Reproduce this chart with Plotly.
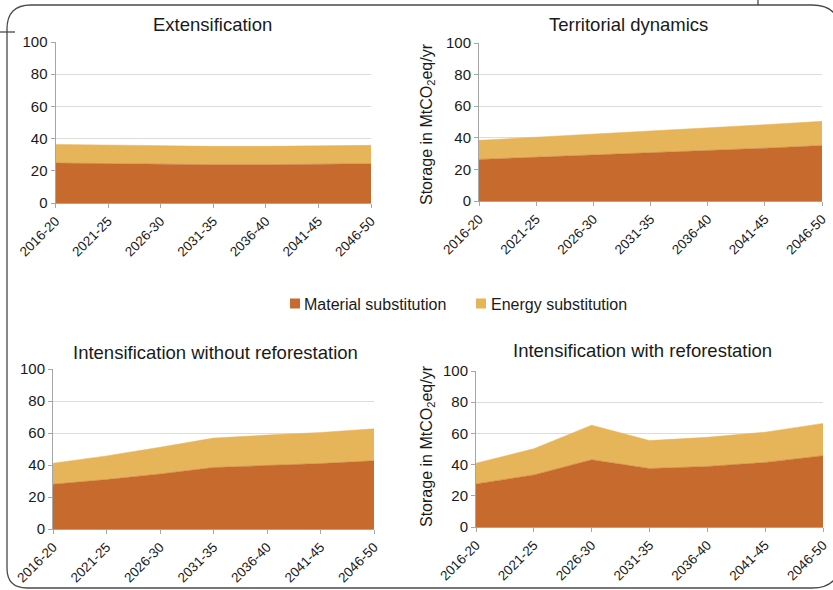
import plotly.graph_objects as go

W, H = 833, 590

periods = ["2016-20", "2021-25", "2026-30", "2031-35", "2036-40", "2041-45", "2046-50"]

titles = ["Extensification", "Territorial dynamics",
          "Intensification without reforestation", "Intensification with reforestation"]

# Material substitution (MtCO2eq/yr)
material_ext = [24.8, 24.4, 24.0, 23.8, 23.8, 24.0, 24.4]
material_ter = [26.3, 27.7, 29.0, 30.3, 31.7, 33.4, 35.1]
material_int_wo = [28.0, 30.9, 34.4, 38.4, 39.7, 40.9, 42.6]
material_int_w = [27.6, 33.4, 43.1, 37.5, 38.8, 41.4, 45.7]

# Energy substitution (MtCO2eq/yr)
energy_ext = [11.6, 11.6, 11.5, 11.4, 11.4, 11.4, 11.4]
energy_ter = [12.1, 12.6, 13.2, 14.0, 14.7, 14.9, 15.3]
energy_int_wo = [13.1, 14.8, 16.7, 18.4, 19.0, 19.4, 20.0]
energy_int_w = [13.3, 16.8, 22.2, 17.9, 18.7, 19.4, 20.7]

y_ticks = [0, 20, 40, 60, 80, 100]
series_names = ["Material substitution", "Energy substitution"]
ytitle = "Storage in MtCO<sub>2</sub>eq/yr"

C_MAT = "#C66A2E"
C_EN = "#E6B459"
FONT = "Liberation Sans, Arial, Helvetica, sans-serif"

panels = [
    (material_ext, energy_ext),
    (material_ter, energy_ter),
    (material_int_wo, energy_int_wo),
    (material_int_w, energy_int_w),
]

def px_x(x):
    return x / W

def px_y(y):
    return 1 - y / H

# plot-area pixel boxes: (x_left, x_right, y_bottom(0), y_top(100))
boxes = [
    (55.5, 371, 203, 42),
    (479, 822, 201, 43),
    (53, 374, 529, 369),
    (476, 823, 527, 371),
]
title_pos = [(212, 24), (628, 24), (215, 352), (642, 351)]

fig = go.Figure()
layout = dict(
    width=W, height=H,
    margin=dict(l=0, r=0, t=0, b=0, autoexpand=False),
    paper_bgcolor="white", plot_bgcolor="white",
    showlegend=False,
    font=dict(family=FONT, color="#1a1a1a"),
)

annotations = []
for i, (mat, en) in enumerate(panels):
    xa = "x" if i == 0 else f"x{i+1}"
    ya = "y" if i == 0 else f"y{i+1}"
    xkey = "xaxis" if i == 0 else f"xaxis{i+1}"
    ykey = "yaxis" if i == 0 else f"yaxis{i+1}"
    fig.add_trace(go.Scatter(x=periods, y=mat, xaxis=xa, yaxis=ya, mode="lines",
                             stackgroup=f"s{i}", fillcolor=C_MAT,
                             line=dict(color=C_MAT, width=0.5), name=series_names[0]))
    fig.add_trace(go.Scatter(x=periods, y=en, xaxis=xa, yaxis=ya, mode="lines",
                             stackgroup=f"s{i}", fillcolor=C_EN,
                             line=dict(color=C_EN, width=0.5), name=series_names[1]))
    xl, xr, yb, yt = boxes[i]
    layout[xkey] = dict(
        domain=[px_x(xl), px_x(xr)], anchor=ya, type="category", automargin=False,
        range=[0, len(periods) - 1], showgrid=False, zeroline=False,
        showline=True, linecolor="#a6a6a6", linewidth=1,
        ticks="outside", ticklen=4, tickcolor="#a6a6a6",
        tickangle=-45, tickfont=dict(size=13.5, family=FONT, color="#1a1a1a"),
    )
    layout[ykey] = dict(
        domain=[px_y(yb), px_y(yt)], anchor=xa, range=[0, 100], automargin=False,
        tickvals=y_ticks, showgrid=True, gridcolor="#dcdcdc", gridwidth=1,
        zeroline=False, showline=True, linecolor="#a6a6a6", linewidth=1,
        ticks="outside", ticklen=4, tickcolor="#a6a6a6",
        tickfont=dict(size=15, family=FONT, color="#1a1a1a"),
    )
    tx, ty = title_pos[i]
    annotations.append(dict(text=titles[i], x=px_x(tx), y=px_y(ty), xref="paper", yref="paper",
                            showarrow=False, xanchor="center", yanchor="middle",
                            font=dict(size=18.5, family=FONT, color="#1a1a1a")))

# y-axis titles on right-hand panels
for (cx, cy) in [(427, 124), (427, 446)]:
    annotations.append(dict(text=ytitle, x=px_x(cx), y=px_y(cy), xref="paper", yref="paper",
                            showarrow=False, textangle=-90, xanchor="center", yanchor="middle",
                            font=dict(size=16, family=FONT, color="#1a1a1a")))

# legend
shapes = []
leg = [(295, 302, C_MAT, series_names[0]), (481, 489, C_EN, series_names[1])]
for sq_cx, tx, col, name in leg:
    shapes.append(dict(type="rect", xref="paper", yref="paper",
                       x0=px_x(sq_cx - 5), x1=px_x(sq_cx + 5),
                       y0=px_y(298.5), y1=px_y(308.5),
                       fillcolor=col, line=dict(width=0)))
    annotations.append(dict(text=name, x=px_x(tx), y=px_y(304), xref="paper", yref="paper",
                            showarrow=False, xanchor="left", yanchor="middle",
                            font=dict(size=16, family=FONT, color="#1a1a1a")))

# decorative frame (rounded box partly outside the picture)
def pt(x, y):
    return f"{px_x(x):.5f},{px_y(y):.5f}"

L, T, R, B = 7, 5, 840, 588
r_tl, r_tr, r_br, r_bl = 24, 28, 28, 20
frame = (f"M {pt(L, T + r_tl)} Q {pt(L, T)} {pt(L + r_tl, T)} L {pt(R - r_tr, T)} "
         f"Q {pt(R, T)} {pt(R, T + r_tr)} L {pt(R, B - r_br)} Q {pt(R, B)} {pt(R - r_br, B)} "
         f"L {pt(L + r_bl, B)} Q {pt(L, B)} {pt(L, B - r_bl)} Z")
shapes.append(dict(type="path", xref="paper", yref="paper", path=frame,
                   line=dict(color="#4a4a4a", width=1.3)))
shapes.append(dict(type="line", xref="paper", yref="paper",
                   x0=px_x(0), x1=px_x(15), y0=px_y(32), y1=px_y(32),
                   line=dict(color="#4a4a4a", width=1.3)))
shapes.append(dict(type="line", xref="paper", yref="paper",
                   x0=px_x(758), x1=px_x(758), y0=px_y(0), y1=px_y(5),
                   line=dict(color="#4a4a4a", width=1.3)))

layout["annotations"] = annotations
layout["shapes"] = shapes
fig.update_layout(**layout)

fig.write_html("out.html", config={"displayModeBar": False},
               post_script="document.body.style.margin='0';document.body.style.overflow='hidden';")
